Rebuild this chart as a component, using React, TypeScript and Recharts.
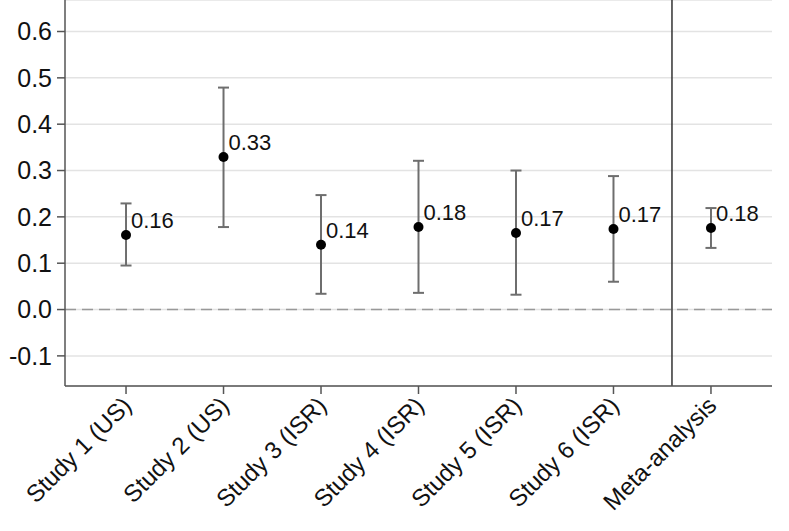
import React from 'react';
import { ScatterChart, Scatter, XAxis, YAxis, CartesianGrid, ErrorBar, ReferenceLine } from 'recharts';

// Effect estimates with 95% CIs per study
const categories = [
  'Study 1 (US)',
  'Study 2 (US)',
  'Study 3 (ISR)',
  'Study 4 (ISR)',
  'Study 5 (ISR)',
  'Study 6 (ISR)',
  'Meta-analysis',
];
const estimates = [0.161, 0.329, 0.14, 0.178, 0.165, 0.174, 0.176];
const lower = [0.095, 0.178, 0.034, 0.036, 0.032, 0.06, 0.133];
const upper = [0.229, 0.479, 0.247, 0.321, 0.3, 0.288, 0.219];
const labels = ['0.16', '0.33', '0.14', '0.18', '0.17', '0.17', '0.18'];
const yTicks = [-0.1, 0, 0.1, 0.2, 0.3, 0.4, 0.5, 0.6];
const metaDivider = 6.6;

const data = categories.map((name, i) => ({
  pos: i + 1,
  name,
  est: estimates[i],
  err: [estimates[i] - lower[i], upper[i] - estimates[i]],
  label: labels[i],
}));

const FONT = '"Liberation Sans", Arial, Helvetica, sans-serif';

const PointShape = (props: any) => {
  const { cx, cy, payload } = props;
  return (
    <g>
      <circle cx={cx} cy={cy} r={5} fill="#000" />
      <text x={cx + 5} y={cy - 7} fontSize={22} fill="#111" fontFamily={FONT}>
        {payload.label}
      </text>
    </g>
  );
};

const XTick = ({ x, y, payload }: any) => {
  const name = categories[payload.value - 1] ?? '';
  const ax = x + 7;
  const ay = y + 11;
  return (
    <text
      x={ax}
      y={ay}
      transform={`rotate(-45, ${ax}, ${ay})`}
      textAnchor="end"
      fontSize={24}
      fill="#111"
      fontFamily={FONT}
    >
      {name}
    </text>
  );
};

export default function App() {
  return (
    <div style={{ position: 'absolute', left: 0, top: 0, background: '#fff' }}>
      <ScatterChart
        width={789}
        height={531}
        margin={{ top: 0, right: 17, bottom: 0, left: 0 }}
        style={{ fontFamily: FONT }}
      >
        <CartesianGrid horizontal vertical={false} stroke="#e3e3e3" strokeWidth={1.5} />
        <XAxis
          type="number"
          dataKey="pos"
          domain={[0.374, 7.626]}
          ticks={[1, 2, 3, 4, 5, 6, 7]}
          allowDataOverflow
          height={145}
          tick={<XTick />}
          tickSize={8}
          axisLine={{ stroke: '#555', strokeWidth: 1.5 }}
          tickLine={{ stroke: '#555', strokeWidth: 1.5 }}
          interval={0}
        />
        <YAxis
          type="number"
          dataKey="est"
          domain={[-0.165, 0.668]}
          ticks={yTicks}
          allowDataOverflow
          width={65}
          tickSize={8}
          tickMargin={5}
          tickFormatter={(v: number) => v.toFixed(1)}
          tick={{ fontSize: 25, fill: '#111', fontFamily: FONT }}
          axisLine={{ stroke: '#555', strokeWidth: 1.5 }}
          tickLine={{ stroke: '#555', strokeWidth: 1.5 }}
        />
        <ReferenceLine y={0} stroke="#999" strokeWidth={1.5} strokeDasharray="11 6" />
        <ReferenceLine x={metaDivider} stroke="#333" strokeWidth={1.5} />
        <Scatter data={data} shape={<PointShape />} isAnimationActive={false}>
          <ErrorBar dataKey="err" direction="y" width={5.5} stroke="#6e6e6e" strokeWidth={2} />
        </Scatter>
      </ScatterChart>
    </div>
  );
}
